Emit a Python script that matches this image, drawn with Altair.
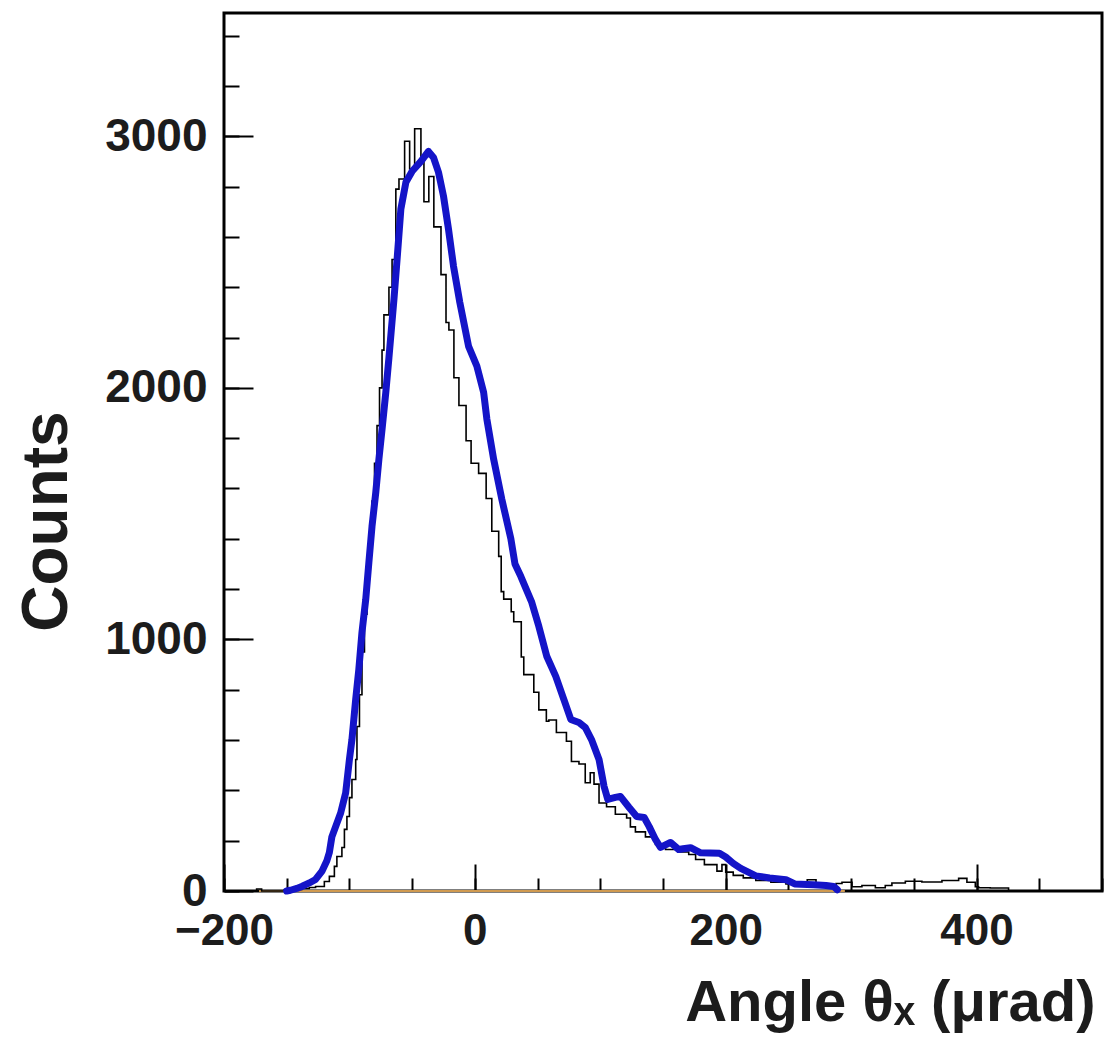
import altair as alt
import pandas as pd

# ---- data ----
# black histogram: step start positions (µrad) and counts
black_x = [-200, -174, -170, -152, -144, -138, -132, -127, -120, -116, -112, -110, -106, -104, -102,
           -100, -98, -95, -94, -92, -90, -88, -86, -84, -82, -80, -78, -76, -74, -72.5, -68.5, -66,
           -63, -60.5, -56, -52, -48, -43, -40.6, -36.7, -32.7, -27, -23, -20.7, -16.7, -12.7, -7, -3,
           3, 9, 13.5, 19, 21, 23, 29, 31, 37, 39, 47, 51, 57, 59, 65, 73, 77, 83, 88, 92, 95, 99,
           105, 112, 121, 124, 128, 136, 144, 152, 162, 170.5, 176, 183, 193, 197, 200, 206, 214, 224,
           236, 248, 258, 265, 272, 280, 288, 292.7, 300.7, 308.6, 319.3, 327.2, 332.5, 343.2, 356.4,
           372.4, 385.7, 392.3, 399, 401.6, 410.9, 425.5, 500]
black_c = [0, 8, 0, 4, 6, 10, 14, 18, 38, 58, 98, 137, 173, 245, 296,
           371, 443, 523, 654, 780, 950, 1100, 1250, 1400, 1550, 1700, 1850, 2000, 2150, 2290, 2400, 2510,
           2790, 2830, 2980, 2870, 3030, 2900, 2740, 2840, 2640, 2450, 2260, 2230, 2040, 1930, 1790, 1700,
           1660, 1560, 1430, 1330, 1190, 1160, 1110, 1070, 930, 860, 790, 720, 675, 680, 630, 595, 515, 505, 430, 470, 425, 350,
           335, 305, 290, 255, 235, 215, 185, 165, 155, 145, 125, 105, 79, 105, 75, 62, 52, 42,
           35, 28, 24, 45, 22, 18, 30, 35, 17, 22, 13, 22, 32, 39, 36,
           42, 50, 35, 17, 13, 12, 0, 0]

# blue (thick) curve
blue_x = [-150, -147, -142, -138, -132, -127, -122, -118, -116, -114, -111, -107, -103, -100, -98, -95,
          -92.5, -90, -87, -84.5, -82, -79, -76.5, -74, -71, -68.5, -64.5, -62, -59, -55, -50, -43, -37,
          -33, -29, -25, -21, -17, -12, -5, 1.6, 7, 9.6, 15, 21.5, 28.7, 32, 36.7, 45.4, 51, 57.4, 64.5,
          71, 76.5, 83, 88, 93, 99, 103, 106, 112, 116, 123, 129, 135, 139, 144, 148, 156, 162.5, 166,
          172, 180, 195, 200, 206, 212, 218, 224, 235, 248, 255, 270, 280, 286, 289]
blue_c = [0, 3, 10, 18, 32, 46, 78, 120, 153, 215, 256, 310, 390, 523, 602, 762,
          881, 1028, 1159, 1306, 1449, 1584, 1716, 1835, 1982, 2120, 2352, 2511, 2710, 2817, 2861, 2900, 2940,
          2916, 2857, 2762, 2630, 2483, 2340, 2165, 2086, 1982, 1875, 1716, 1557, 1400, 1300, 1250, 1147, 1052, 932, 853,
          761, 682, 670, 650, 602, 523, 416, 364, 372, 376, 332, 296, 292, 256, 205, 173, 193, 165, 168,
          172, 152, 150, 135, 110, 90, 75, 60, 52, 45, 28, 25, 22, 18, 5]

# faint orange baseline series (all zero)
base_x = [-172, 295]
base_c = [0, 0]

x_major = [-200, 0, 200, 400]
x_minor = list(range(-200, 501, 50))
y_major = [0, 1000, 2000, 3000]
y_minor = list(range(0, 3401, 200))

X_DOMAIN = [-200, 500]
Y_DOMAIN = [0, 3490]

black_df = pd.DataFrame({"angle": black_x, "counts": black_c})
blue_df = pd.DataFrame({"angle": blue_x, "counts": blue_c})
base_df = pd.DataFrame({"angle": base_x, "counts": base_c})

FONT = "Liberation Sans"
TXT = "#1c1c1c"
LABEL_EXPR = "datum.value < 0 ? '\u2212' + (-datum.value) : '' + datum.value"

xs = alt.Scale(domain=X_DOMAIN, nice=False, zero=False)
ys = alt.Scale(domain=Y_DOMAIN, nice=False)

x_major_axis = alt.Axis(
    values=x_major, orient="bottom", offset=-27, tickSize=27, tickWidth=2, tickColor="black",
    domain=False, grid=False, labelFont=FONT, labelFontSize=44, labelFontWeight="bold",
    labelColor=TXT, labelPadding=18, labelFlush=False, labelOverlap=False,
    labelExpr=LABEL_EXPR,
    title="Angle θₓ (μrad)", titleFont=FONT, titleFontSize=58, titleFontWeight="bold",
    titleColor=TXT, titleAlign="right", titleBaseline="alphabetic", titleX=871, titleY=156,
)
y_major_axis = alt.Axis(
    values=y_major, orient="left", offset=-29, tickSize=29, tickWidth=2, tickColor="black",
    domain=False, grid=False, labelFont=FONT, labelFontSize=46, labelFontWeight="bold",
    labelColor=TXT, labelPadding=17, labelFlush=False, labelOverlap=False,
    labelExpr=LABEL_EXPR,
    title="Counts", titleFont=FONT, titleFontSize=64, titleFontWeight="bold", titleColor=TXT,
    titleAngle=270, titleAlign="center", titleBaseline="alphabetic", titleX=-187, titleY=508,
)
x_minor_axis = alt.Axis(
    values=x_minor, orient="bottom", offset=-13, tickSize=13, tickWidth=2, tickColor="black",
    domain=False, grid=False, labels=False, title=None,
)
y_minor_axis = alt.Axis(
    values=y_minor, orient="left", offset=-15, tickSize=15, tickWidth=2, tickColor="black",
    domain=False, grid=False, labels=False, title=None,
)

base = alt.Chart(base_df).mark_line(color="#d09a50", strokeWidth=2).encode(
    x=alt.X("angle:Q", scale=xs, axis=None),
    y=alt.Y("counts:Q", scale=ys, axis=None),
)

black = alt.Chart(black_df).mark_line(
    interpolate="step-after", color="black", strokeWidth=1.6
).encode(
    x=alt.X("angle:Q", scale=xs, axis=x_major_axis),
    y=alt.Y("counts:Q", scale=ys, axis=y_major_axis),
)

blue = alt.Chart(blue_df).mark_line(
    color="#1414c8", strokeWidth=7, strokeJoin="round", strokeCap="round"
).encode(
    x=alt.X("angle:Q", scale=xs, axis=x_minor_axis),
    y=alt.Y("counts:Q", scale=ys, axis=y_minor_axis),
)

chart = (
    alt.layer(base, black, blue)
    .resolve_axis(x="independent", y="independent")
    .properties(
        width=878,
        height=878,
        padding={"left": 224, "top": 13, "right": 6, "bottom": 152},
        autosize=alt.AutoSizeParams(type="none"),
        background="white",
    )
    .configure_view(stroke="black", strokeWidth=3)
)

chart.save("out.html", embed_options={"renderer": "svg", "actions": False})
